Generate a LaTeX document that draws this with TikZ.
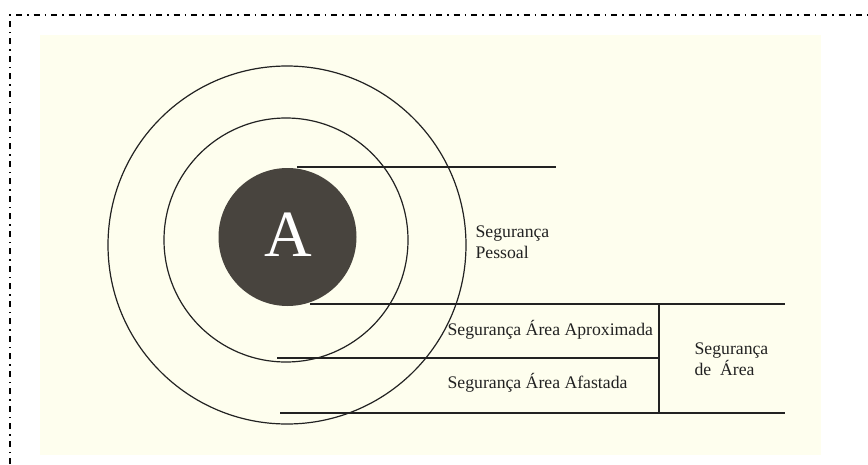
\documentclass[tikz,border=0pt]{standalone}
\usepackage{fontspec}
\setmainfont{Liberation Serif}
\usepackage{xcolor}
\usepackage{tikz}
\definecolor{paper}{HTML}{FEFEEE}
\definecolor{inkdark}{HTML}{48443E}
\definecolor{ink}{HTML}{222222}

\begin{document}
\begin{tikzpicture}[x=1pt,y=-1pt,line width=1.2pt,
  lbl/.style={anchor=west,inner sep=0pt,text=ink,font=\fontsize{17.7}{20.5}\selectfont,align=left}]
\useasboundingbox (0,0) rectangle (868,464);
\fill[paper] (40,35) rectangle (821,455);
\draw[line width=1.3pt,dash pattern=on 6pt off 5pt on 1.5pt off 5pt] (10,464)--(10,15)--(868,15);
% rings
\draw[ink] (287,245) circle[radius=179pt];
\draw[ink] (286,240) circle[radius=122pt];
% zone lines
\draw[ink] (297,167)--(556,167);
\draw[ink] (310,304)--(785,304);
\draw[ink] (277,358)--(659,358);
\draw[ink] (280,413)--(785,413);
\draw[ink] (659,304)--(659,413);
\fill[inkdark] (287.5,237) circle[radius=69pt];
\node[text=white,inner sep=0pt,font=\fontsize{66}{66}\selectfont] (a) at (288,235) {A};
\node[lbl] (pessoal) at (475,242) {Segurança\\Pessoal};
\node[lbl] (aprox) at (447,330) {Segurança Área Aproximada};
\node[lbl] (afast) at (447,383) {Segurança Área Afastada};
\node[lbl] (area) at (694,359) {Segurança\\de\ \ Área};
\end{tikzpicture}
\end{document}
